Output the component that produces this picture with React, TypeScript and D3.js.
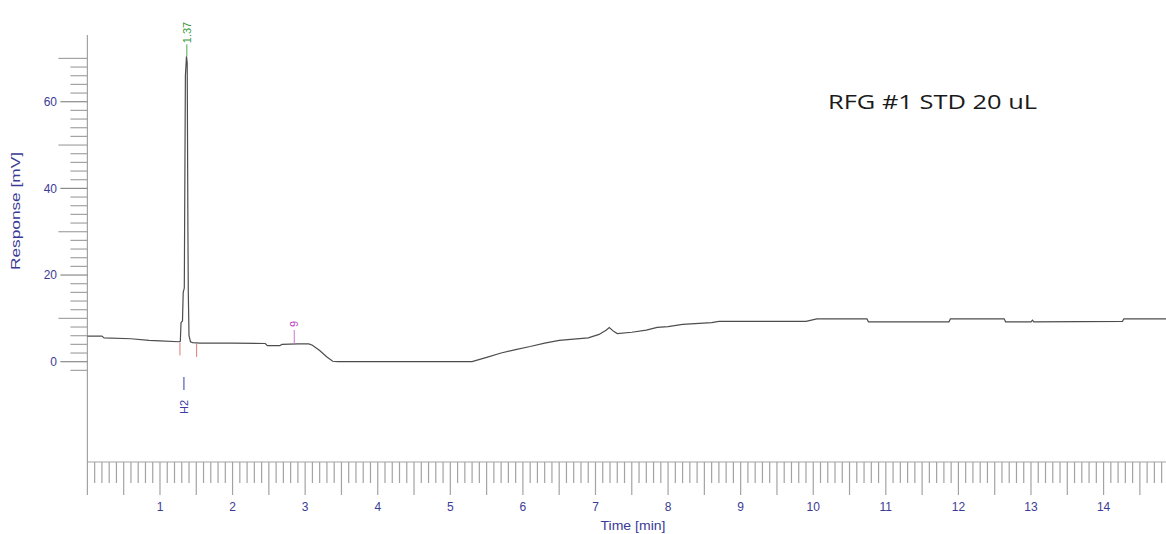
import React from "react";
import * as d3 from "d3";

const W = 1166;
const H = 534;

// Chromatogram trace: time [min] and response [mV]
const traceTime = [
  0, 0.2, 0.23, 0.6, 0.85, 1.0, 1.26, 1.28, 1.29, 1.31, 1.32, 1.335, 1.35, 1.365, 1.375, 1.385, 1.39, 1.40, 1.42,
  1.45, 1.55, 2.0, 2.45, 2.48, 2.65, 2.68, 2.9, 3.05, 3.1, 3.2, 3.3, 3.38, 3.45, 5.3,
  5.5, 5.7, 5.9, 6.1, 6.3, 6.5, 6.7, 6.9, 7.05, 7.15, 7.19, 7.25, 7.3, 7.5, 7.7, 7.85, 8.0, 8.2, 8.6, 8.7,
  9.9, 10.05, 10.74, 10.76, 11.87, 11.89, 12.63, 12.65, 13.0, 13.02, 13.04, 14.26, 14.28, 14.86,
];
const traceValue = [
  5.9, 5.9, 5.5, 5.3, 4.9, 4.8, 4.6, 4.7, 9.0, 9.4, 16.0, 17.0, 66.0, 70.5, 69.0, 30.0, 16.0, 6.0, 4.6,
  4.4, 4.3, 4.3, 4.2, 3.7, 3.7, 4.0, 4.1, 4.1, 3.8, 2.6, 1.1, 0.1, 0, 0,
  1.0, 2.0, 2.8, 3.5, 4.3, 4.9, 5.2, 5.5, 6.3, 7.3, 7.9, 7.0, 6.5, 6.8, 7.3, 7.9, 8.1, 8.6, 9.0, 9.3,
  9.3, 9.9, 9.9, 9.2, 9.2, 9.9, 9.9, 9.2, 9.2, 9.6, 9.2, 9.3, 9.9, 9.9,
];

const xTickLabels = [1, 2, 3, 4, 5, 6, 7, 8, 9, 10, 11, 12, 13, 14];
const yTickLabels = [0, 20, 40, 60];

const peakTime = 1.37;
const peakLabel = "1.37";
const peakName = "H2";
const peakNameTime = 1.33;
const baselineMarks = [1.275, 1.505];
const eventTime = 2.85;
const eventLabel = "9";
const title = "RFG #1 STD 20 uL";

const axisColor = "#a3a3a3";
const labelColor = "#3b3b95";

export default function App() {
  const x = d3.scaleLinear().domain([0, 14.86]).range([87.4, 1166]);
  const y = d3.scaleLinear().domain([-23.15, 75.4]).range([462, 35]);

  const pts: [number, number][] = traceTime.map((t, i) => [t, traceValue[i]]);
  const line = d3
    .line<[number, number]>()
    .x((d) => x(d[0]))
    .y((d) => y(d[1]));

  const interp = (t: number) => {
    for (let i = 1; i < traceTime.length; i++) {
      if (traceTime[i] >= t) {
        const f = (t - traceTime[i - 1]) / (traceTime[i] - traceTime[i - 1]);
        return traceValue[i - 1] + f * (traceValue[i] - traceValue[i - 1]);
      }
    }
    return traceValue[traceValue.length - 1];
  };

  const xMinor = d3.range(0, 149).map((i) => i);
  const yMinor = d3.range(-1, 36).map((i) => i * 2);

  const x0 = x(0);
  const axisY = y(-23.15);
  const font = "'Liberation Sans', Arial, sans-serif";

  return (
    <svg
      width={W}
      height={H}
      style={{ position: "absolute", left: 0, top: 0, background: "#fff" }}
      fontFamily={font}
    >
      <rect x={0} y={0} width={W} height={H} fill="#fff" />
      {/* Y axis */}
      <line x1={x0} x2={x0} y1={y(75.4)} y2={axisY} stroke={axisColor} strokeWidth={1.2} />
      {yMinor.map((v) => {
        const major = v % 20 === 0;
        const mid = v % 10 === 0;
        const len = major ? 27 : mid ? 29 : 17;
        return (
          <line
            key={"yt" + v}
            x1={x0 - len}
            x2={x0}
            y1={y(v)}
            y2={y(v)}
            stroke={major ? "#8a8a8a" : axisColor}
            strokeWidth={1.2}
          />
        );
      })}
      {yTickLabels.map((v) => (
        <text
          key={"yl" + v}
          x={57}
          y={y(v)}
          dy="0.35em"
          textAnchor="end"
          fontSize={12}
          fill={labelColor}
        >
          {v}
        </text>
      ))}
      <text
        transform={`translate(20, 211) rotate(-90)`}
        textAnchor="middle"
        fontSize={12}
        fill={labelColor}
        textLength={118}
        lengthAdjust="spacingAndGlyphs"
      >
        Response [mV]
      </text>

      {/* X axis */}
      <line x1={x0} x2={W} y1={axisY} y2={axisY} stroke={axisColor} strokeWidth={1.2} />
      {xMinor.map((i) => {
        const major = i % 5 === 0;
        return (
          <line
            key={"xt" + i}
            x1={x(i / 10)}
            x2={x(i / 10)}
            y1={axisY}
            y2={axisY + (major ? 33 : 21)}
            stroke={axisColor}
            strokeWidth={1.2}
          />
        );
      })}
      {xTickLabels.map((v) => (
        <text
          key={"xl" + v}
          x={x(v)}
          y={507}
          dy="0.35em"
          textAnchor="middle"
          fontSize={12}
          fill={labelColor}
        >
          {v}
        </text>
      ))}
      <text
        x={633}
        y={526}
        dy="0.35em"
        textAnchor="middle"
        fontSize={12}
        fill={labelColor}
        textLength={65}
        lengthAdjust="spacingAndGlyphs"
      >
        Time [min]
      </text>

      {/* trace */}
      <path d={line(pts) || ""} fill="none" stroke="#4d4d4d" strokeWidth={1.2} />

      {/* baseline markers */}
      {baselineMarks.map((t) => (
        <line
          key={"bm" + t}
          x1={x(t)}
          x2={x(t)}
          y1={y(interp(t)) + 1}
          y2={y(interp(t)) + 14}
          stroke="#e07878"
          strokeWidth={1}
        />
      ))}

      {/* peak label */}
      <line x1={x(peakTime)} x2={x(peakTime)} y1={y(70.5) - 12} y2={y(70.5)} stroke="#4caa4c" strokeWidth={1} />
      <text
        transform={`translate(${x(peakTime) + 4}, ${y(70.5) - 13}) rotate(-90)`}
        textAnchor="start"
        fontSize={11}
        fill="#3d9a3d"
      >
        {peakLabel}
      </text>

      {/* peak name */}
      <line x1={x(peakNameTime)} x2={x(peakNameTime)} y1={377} y2={390} stroke="#3a3aa8" strokeWidth={1} />
      <text
        transform={`translate(${x(peakNameTime) + 4}, 414) rotate(-90)`}
        textAnchor="start"
        fontSize={11}
        fill="#3a3aa8"
      >
        {peakName}
      </text>

      {/* event marker */}
      <line
        x1={x(eventTime)}
        x2={x(eventTime)}
        y1={y(interp(eventTime)) - 14}
        y2={y(interp(eventTime))}
        stroke="#d070d0"
        strokeWidth={1}
      />
      <text
        transform={`translate(${x(eventTime) + 4}, ${y(interp(eventTime)) - 17}) rotate(-90)`}
        textAnchor="start"
        fontSize={11}
        fill="#c040c0"
      >
        {eventLabel}
      </text>

      {/* title */}
      <text
        x={828}
        y={102}
        dy="0.35em"
        fontSize={20}
        fill="#1a1a1a"
        fontFamily="'Open Sans', 'Liberation Sans', sans-serif"
        textLength={209}
        lengthAdjust="spacingAndGlyphs"
      >
        {title}
      </text>
    </svg>
  );
}
